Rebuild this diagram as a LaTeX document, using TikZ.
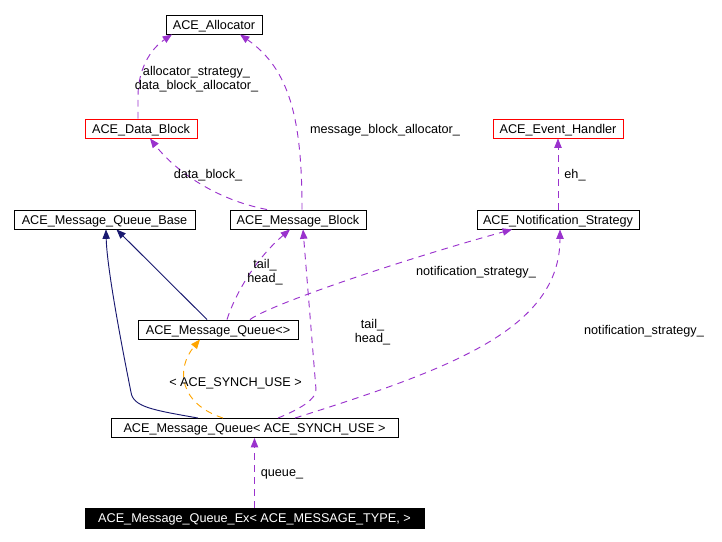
\documentclass[tikz,border=0pt]{standalone}
\usepackage{fontspec}
\setmainfont{Liberation Sans}
\usetikzlibrary{arrows.meta}
\definecolor{edgepurple}{HTML}{9A32CD}
\definecolor{edgenavy}{HTML}{191970}
\definecolor{edgeorange}{HTML}{FFA500}
\tikzset{
  cls/.style={draw=black, line width=0.7pt, inner sep=0pt, minimum height=14.25pt, text height=6.8pt, text depth=-0.6pt, font=\fontsize{9.5}{10.5}\selectfont},
  clsred/.style={cls, draw=red},
  clsfocus/.style={cls, fill=black, text=white, minimum height=15pt},
  lbl/.style={inner sep=0pt, align=center, font=\fontsize{9.5}{10.5}\selectfont},
  usedash/.style={draw=edgepurple, line width=0.7pt, dash pattern=on 5pt off 4pt, -{Triangle[length=7pt,width=5.5pt]}},
  tmpldash/.style={draw=edgeorange, line width=0.7pt, dash pattern=on 5pt off 4pt, -{Triangle[length=7pt,width=5.5pt]}},
  inherit/.style={draw=edgenavy, line width=0.7pt, -{Triangle[length=7pt,width=5.5pt]}}
}
\begin{document}
\begin{tikzpicture}[x=0.75pt,y=-0.75pt]
\useasboundingbox (0,0) rectangle (722,542);
% nodes
\node[cls, minimum width=72pt] (alloc) at (214,24.5) {ACE\_Allocator};
\node[clsred, minimum width=84pt] (datablock) at (141,128.5) {ACE\_Data\_Block};
\node[clsred, minimum width=97.5pt] (evh) at (558,128.5) {ACE\_Event\_Handler};
\node[cls, minimum width=135.75pt] (mqbase) at (104.5,219.5) {ACE\_Message\_Queue\_Base};
\node[cls, minimum width=102pt] (mblock) at (298,219.5) {ACE\_Message\_Block};
\node[cls, minimum width=121.5pt] (notif) at (558,219.5) {ACE\_Notification\_Strategy};
\node[cls, minimum width=120pt] (mq) at (218,329.5) {ACE\_Message\_Queue<>};
\node[cls, minimum width=215.25pt] (mqs) at (254.5,428) {ACE\_Message\_Queue< ACE\_SYNCH\_USE >};
\node[clsfocus, minimum width=254.25pt] (mqex) at (254.5,518) {ACE\_Message\_Queue\_Ex< ACE\_MESSAGE\_TYPE, >};
% edges
\draw[usedash] ([xshift=-2.25pt]datablock.north) -- ++(0,-22) .. controls ++(0,-27) and ++(-22,15) .. ([xshift=-31.5pt]alloc.south);
\draw[usedash] ([xshift=3pt]mblock.north) .. controls ++(0,-90) and ++(50,35) .. ([xshift=19.5pt]alloc.south);
\draw[usedash] ([xshift=-23.25pt]mblock.north) .. controls ++(-52,-10) and ++(25,32) .. ([xshift=6.75pt]datablock.south);
\draw[usedash] (notif.north) -- (evh.south);
\draw[inherit] ([xshift=-8.25pt]mq.north) -- ([xshift=9pt]mqbase.south);
\draw[inherit] ([xshift=-42.4pt]mqs.north) .. controls ++(-45,-8) and ++(2,15) .. ++(-67,-26) .. controls ++(-8,-40) and ++(1,40) .. ([xshift=1.1pt]mqbase.south);
\draw[usedash] ([xshift=6.75pt]mq.north) .. controls ++(8,-25) and ++(-35,30) .. ([xshift=-6pt]mblock.south);
\draw[usedash] ([xshift=24pt]mq.north) .. controls ++(20,-15) and ++(-112,31) .. ([xshift=-34.5pt]notif.south);
\draw[tmpldash] ([xshift=-23.6pt]mqs.north) .. controls ++(-43,-14) and ++(-25,30) .. ([xshift=-13.5pt]mq.south);
\draw[usedash] ([xshift=17.6pt]mqs.north) .. controls ++(22,-9) and ++(1,10) .. ++(38,-29) -- ([xshift=3.75pt]mblock.south);
\draw[usedash] ([xshift=30.4pt]mqs.north) .. controls ++(155,-49) and ++(0,100) .. ([xshift=1.5pt]notif.south);
\draw[usedash] (mqex.north) -- (mqs.south);
% labels
\node[lbl] (l1) at (196.5,79) {allocator\_strategy\_\\data\_block\_allocator\_};
\node[lbl] (l2) at (385,130.5) {message\_block\_allocator\_};
\node[lbl] (l3) at (208,175.5) {data\_block\_};
\node[lbl] (l4) at (575,175.5) {eh\_};
\node[lbl] (l5) at (476,272.5) {notification\_strategy\_};
\node[lbl] (l6) at (644,331.5) {notification\_strategy\_};
\node[lbl] (l7) at (265,272.5) {tail\_\\head\_};
\node[lbl] (l8) at (372.5,332) {tail\_\\head\_};
\node[lbl] (l9) at (235.5,383.5) {< ACE\_SYNCH\_USE >};
\node[lbl] (l10) at (282,474.5) {queue\_};
\end{tikzpicture}
\end{document}
